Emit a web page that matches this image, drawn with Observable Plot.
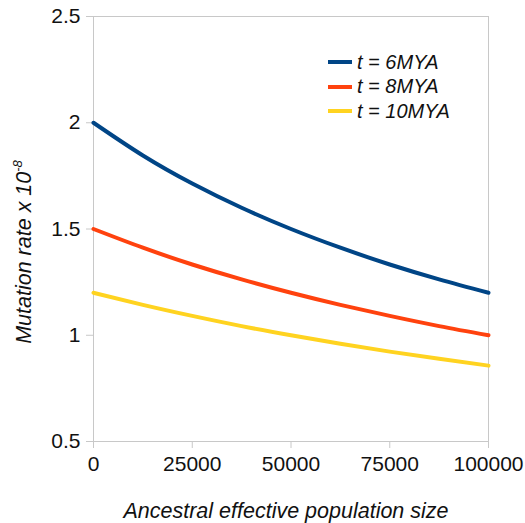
<!DOCTYPE html>
<html>
<head>
<meta charset="utf-8">
<script src="https://cdn.jsdelivr.net/npm/d3@7"></script>
<script src="https://cdn.jsdelivr.net/npm/@observablehq/plot@0.6"></script>
<style>
  html, body { margin: 0; padding: 0; background: #fff; }
  body { font-family: "Liberation Sans", Arial, sans-serif; }
  #wrap { position: relative; width: 525px; height: 523px; }
  #legend { position: absolute; left: 328px; top: 50px; font-size: 20px; font-style: italic; color: #111; }
  #legend .row { display: flex; align-items: center; height: 24.5px; }
  #legend .sw { width: 24px; height: 4px; margin-right: 5px; }
</style>
</head>
<body>
<div id="wrap"></div>
<script>
const popSize = [0, 12500, 25000, 37500, 50000, 62500, 75000, 87500, 100000];
const rate6MYA = [2.0, 1.846, 1.714, 1.6, 1.5, 1.412, 1.333, 1.263, 1.2];
const rate8MYA = [1.5, 1.412, 1.333, 1.263, 1.2, 1.143, 1.091, 1.043, 1.0];
const rate10MYA = [1.2, 1.143, 1.091, 1.043, 1.0, 0.96, 0.923, 0.889, 0.857];
const seriesNames = ["t = 6MYA", "t = 8MYA", "t = 10MYA"];
const seriesColors = ["#004586", "#ff420e", "#ffd320"];
const xTicks = [0, 25000, 50000, 75000, 100000];
const yTicks = [0.5, 1, 1.5, 2, 2.5];
const xTitle = "Ancestral effective population size";
const yTitle = "Mutation rate x 10";
const yTitleSup = "-8";

const allSeries = [rate6MYA, rate8MYA, rate10MYA];
const rows = [];
allSeries.forEach((vals, i) => vals.forEach((v, j) => rows.push({ series: seriesNames[i], n: popSize[j], rate: v })));

const grid = "#c8c8c8";
const chart = Plot.plot({
  width: 525,
  height: 523,
  marginLeft: 93,
  marginRight: 37,
  marginTop: 16,
  marginBottom: 82,
  style: { fontFamily: "Liberation Sans, Arial, sans-serif", fontSize: "21px", color: "#111", background: "#fff" },
  x: { domain: [0, 100000] },
  y: { domain: [0.5, 2.5] },
  color: { domain: seriesNames, range: seriesColors },
  marks: [
    Plot.frame({ stroke: grid, strokeWidth: 1 }),
    Plot.axisY({ ticks: yTicks, tickSize: 7, tickPadding: 6, stroke: grid, fontSize: 21, label: null, tickFormat: d => String(d) }),
    Plot.axisX({ ticks: xTicks, tickSize: 7, tickPadding: 8, stroke: grid, fontSize: 21, label: null, tickFormat: d => String(d) }),
    Plot.line(rows, { x: "n", y: "rate", z: "series", stroke: "series", strokeWidth: 4, curve: "natural" })
  ]
});

const svg = d3.select(chart);
svg.append("text")
  .attr("x", 286).attr("y", 518)
  .attr("text-anchor", "middle")
  .attr("font-style", "italic")
  .attr("font-size", 21.5)
  .attr("fill", "#111")
  .text(xTitle);
const yt = svg.append("text")
  .attr("transform", "translate(31,252) rotate(-90)")
  .attr("text-anchor", "middle")
  .attr("font-style", "italic")
  .attr("font-size", 21.5)
  .attr("fill", "#111");
yt.append("tspan").text(yTitle);
yt.append("tspan").attr("font-size", 13).attr("dy", -9).text(yTitleSup);

const wrap = document.getElementById("wrap");
wrap.appendChild(chart);
const legend = document.createElement("div");
legend.id = "legend";
seriesNames.forEach((name, i) => {
  const r = document.createElement("div");
  r.className = "row";
  const sw = document.createElement("span");
  sw.className = "sw";
  sw.style.background = seriesColors[i];
  const t = document.createElement("span");
  t.textContent = name;
  r.appendChild(sw); r.appendChild(t);
  legend.appendChild(r);
});
wrap.appendChild(legend);
</script>
</body>
</html>
